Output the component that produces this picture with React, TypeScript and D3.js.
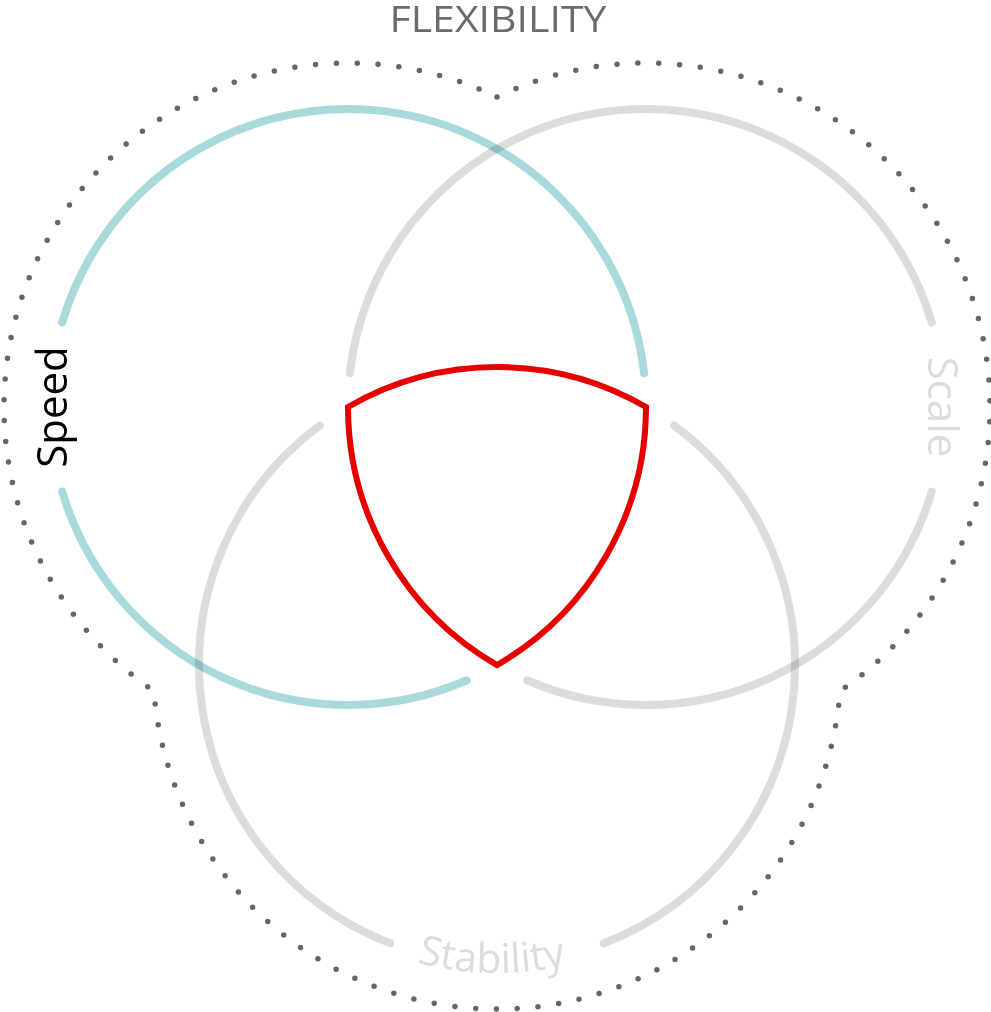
import React from "react";
import * as d3 from "d3";

// three sets of the venn, in order left, right, bottom
const sets = ["Speed", "Scale", "Stability"];
// circle centres on a unit layout (distance between centres = 1)
const centersX = [-0.5, 0.5, 0];
const centersY = [0, 0, Math.sqrt(3) / 2];
// pieces of each circle that are drawn (degrees, 0 = east, clockwise)
const arcPieces = [
  [[-163.5, -6.5], [66.5, 163.5]],
  [[16.5, 113.5], [186.5, 343.5]],
  [[-53.5, 69], [111, 233.5]],
];
const title = "FLEXIBILITY";

const W = 991, H = 1012;
const rad = (d: number) => (d * Math.PI) / 180;

export default function App() {
  const x = d3.scaleLinear().domain([-0.5, 0.5]).range([348, 646]);
  const y = d3.scaleLinear().domain([0, 1]).range([407, 705]);
  const r = x(1) - x(0);
  const outerR = r + 46;
  const c = sets.map((_, i) => ({ x: x(centersX[i]), y: y(centersY[i]) }));
  const mid = { x: d3.mean(c, d => d.x)!, y: d3.mean(c, d => d.y)! };

  const strokeFor = ["#a8dadc", "#dcdcdc", "#dcdcdc"];

  // red reuleaux triangle (intersection of the three circles)
  const red = d3.path();
  red.arc(c[2].x, c[2].y, r, rad(-120), rad(-60));
  red.arc(c[0].x, c[0].y, r, rad(0), rad(60));
  red.arc(c[1].x, c[1].y, r, rad(120), rad(180));
  red.closePath();

  // outer cusp of two enlarged circles
  const cusp = (a: any, b: any) => {
    const dx = b.x - a.x, dy = b.y - a.y;
    const d = Math.hypot(dx, dy);
    const h = Math.sqrt(outerR * outerR - (d / 2) * (d / 2));
    const mx = (a.x + b.x) / 2, my = (a.y + b.y) / 2;
    const p1 = { x: mx - (dy / d) * h, y: my + (dx / d) * h };
    const p2 = { x: mx + (dy / d) * h, y: my - (dx / d) * h };
    const d1 = Math.hypot(p1.x - mid.x, p1.y - mid.y);
    const d2 = Math.hypot(p2.x - mid.x, p2.y - mid.y);
    return d1 > d2 ? p1 : p2;
  };
  const T = cusp(c[0], c[1]), R = cusp(c[1], c[2]), L = cusp(c[2], c[0]);
  const ang = (o: any, p: any) => Math.atan2(p.y - o.y, p.x - o.x);
  const outline = d3.path();
  const segs: [any, any, any][] = [[c[1], T, R], [c[2], R, L], [c[0], L, T]];
  let total = 0;
  segs.forEach(([o, a, b]) => {
    const a0 = ang(o, a);
    let a1 = ang(o, b);
    while (a1 < a0) a1 += Math.PI * 2;
    total += (a1 - a0) * outerR;
    outline.arc(o.x, o.y, outerR, a0, a1);
  });
  outline.closePath();
  const nDots = Math.round(total / 20.8);

  // text path for "Stability" under the bottom circle
  const stabPath = d3.path();
  stabPath.arc(c[2].x, c[2].y, r + 10, rad(151), rad(31), true);

  const font = "'Open Sans', sans-serif";

  return (
    <svg width={W} height={H} style={{ position: "absolute", left: 0, top: 0 }}>
      <defs>
        <path id="stab-path" d={stabPath.toString()} />
      </defs>
      <path d={outline.toString()} fill="none" stroke="#666" strokeWidth={5.5}
        strokeLinecap="round" strokeDasharray={`0 ${total / nDots}`} />
      {arcPieces.map((pieces, i) =>
        pieces.map((pc, j) => {
          const p = d3.path();
          p.arc(c[i].x, c[i].y, r, rad(pc[0]), rad(pc[1]));
          return (
            <path key={`${i}-${j}`} d={p.toString()} fill="none" stroke={strokeFor[i]}
              strokeWidth={8} strokeLinecap="round" style={{ mixBlendMode: "multiply" }} />
          );
        })
      )}
      <path d={red.toString()} fill="none" stroke="#e60000" strokeWidth={6} strokeLinejoin="miter" />
      <text x={498} y={32} textAnchor="middle" fontFamily={font} fontSize={36} fontWeight={500}
        fill="#6b6b6b" textLength={217} lengthAdjust="spacingAndGlyphs">
        {title}
      </text>
      <text transform={`translate(${c[0].x - r + 17},${c[0].y}) rotate(-90)`} textAnchor="middle"
        fontFamily={font} fontSize={42} fontWeight={500} fill="#000">
        {sets[0]}
      </text>
      <text transform={`translate(${c[1].x + r - 16},${c[1].y}) rotate(90)`} textAnchor="middle"
        fontFamily={font} fontSize={42} fontWeight={500} fill="#dcdcdc">
        {sets[1]}
      </text>
      <text fontFamily={font} fontSize={41} fontWeight={500} fill="#dcdcdc">
        <textPath href="#stab-path" startOffset="50%" textAnchor="middle">
          {sets[2]}
        </textPath>
      </text>
    </svg>
  );
}
